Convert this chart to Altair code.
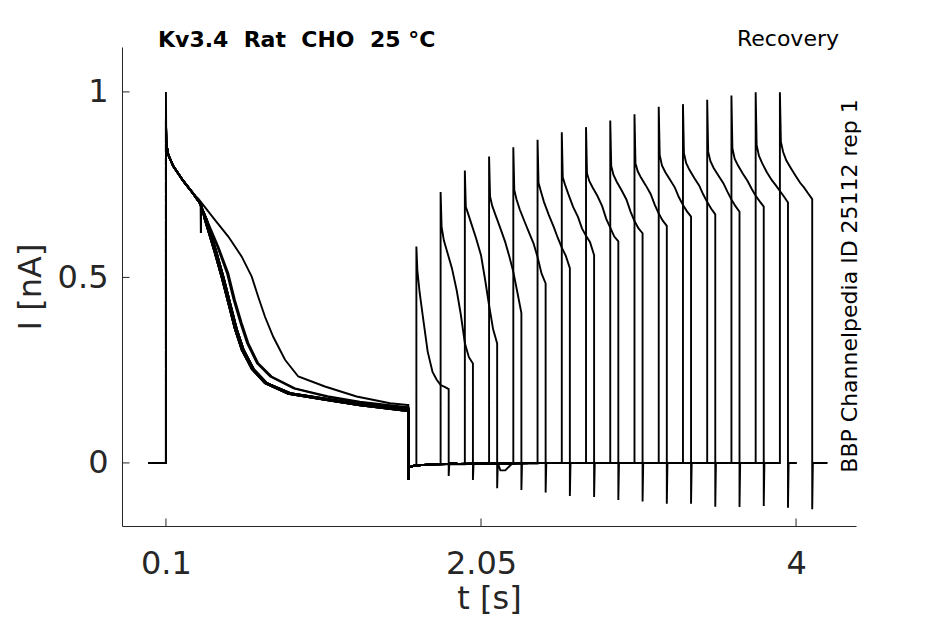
import altair as alt
import pandas as pd

# ---------------- axes ----------------
x_ticks = [0.1, 2.05, 4]
y_ticks = [0, 0.5, 1]
x_domain = [-0.172, 4.371]
y_domain = [-0.170, 1.121]

# ---------------- protocol (s) ----------------
sweep_start = -0.01
pulse1_on = 0.1
pulse1_off = 1.6
pulse2_on = [1.65, 1.80, 1.95, 2.10, 2.25, 2.40, 2.55, 2.70,
             2.85, 3.00, 3.15, 3.30, 3.45, 3.60, 3.75, 3.90]
sweep_stop = [1.905, 2.055, 2.26, 2.355, 2.505, 2.655, 2.805, 2.955,
              3.105, 3.255, 3.405, 3.555, 3.705, 3.855, 4.005, 4.195]

# ---------------- first pulse ----------------
first_peak = [0.93, 0.925, 0.92, 0.93, 0.925, 0.93, 0.92, 0.925,
              0.93, 0.925, 0.92, 0.93, 0.925, 0.92, 0.93, 1.0]
early_t = [0.102, 0.115, 0.145, 0.207, 0.27]
early_i = [0.86, 0.83, 0.80, 0.76, 0.725]

fast_a_t = [0.31, 0.316, 0.3165, 0.317, 0.341, 0.372, 0.403, 0.445, 0.486, 0.527, 0.569, 0.631, 0.713, 0.857, 1.084, 1.3, 1.595]
fast_a_i = [0.70, 0.698, 0.62, 0.697, 0.655, 0.61, 0.565, 0.50, 0.43, 0.36, 0.305, 0.253, 0.215, 0.186, 0.170, 0.155, 0.140]
fast_m_t = [0.31, 0.347, 0.378, 0.409, 0.451, 0.492, 0.533, 0.575, 0.637, 0.72, 0.865, 1.09, 1.3, 1.595]
fast_m_i = [0.70, 0.655, 0.61, 0.565, 0.50, 0.43, 0.36, 0.305, 0.253, 0.216, 0.187, 0.171, 0.157, 0.144]
fast_b_t = [0.31, 0.353, 0.384, 0.415, 0.457, 0.498, 0.539, 0.581, 0.643, 0.725, 0.87, 1.09, 1.3, 1.595]
fast_b_i = [0.70, 0.655, 0.61, 0.565, 0.50, 0.43, 0.36, 0.305, 0.253, 0.215, 0.188, 0.173, 0.158, 0.147]
mid_c_t = [0.31, 0.362, 0.424, 0.486, 0.527, 0.569, 0.61, 0.671, 0.754, 0.899, 1.1, 1.3, 1.595]
mid_c_i = [0.70, 0.646, 0.583, 0.511, 0.439, 0.377, 0.323, 0.269, 0.233, 0.201, 0.180, 0.165, 0.150]
mid_d_t = [0.31, 0.358, 0.418, 0.478, 0.519, 0.561, 0.602, 0.663, 0.745, 0.89, 1.1, 1.3, 1.595]
mid_d_i = [0.70, 0.646, 0.583, 0.511, 0.439, 0.377, 0.323, 0.269, 0.233, 0.201, 0.178, 0.163, 0.148]
slow_e_t = [0.30, 0.34, 0.403, 0.486, 0.569, 0.631, 0.671, 0.713, 0.764, 0.837, 0.919, 1.084, 1.28, 1.487, 1.595]
slow_e_i = [0.712, 0.69, 0.655, 0.61, 0.556, 0.502, 0.448, 0.394, 0.34, 0.278, 0.233, 0.206, 0.179, 0.161, 0.156]

variants = {
    "A": (fast_a_t, fast_a_i), "M": (fast_m_t, fast_m_i), "B": (fast_b_t, fast_b_i),
    "C": (mid_c_t, mid_c_i), "D": (mid_d_t, mid_d_i), "E": (slow_e_t, slow_e_i),
}
sweep_variant = ["E", "C", "D", "A", "M", "B", "M", "B", "A", "M", "B", "A", "M", "B", "A", "M"]

# baseline between the two pulses
gap_t = [1.6, 1.603, 1.64, 1.75, 2.0, 2.5]
gap_i = [-0.046, -0.012, -0.007, -0.004, -0.002, 0.0]

# ---------------- second (recovery) pulse ----------------
peak2 = [0.583, 0.73, 0.788, 0.826, 0.851, 0.871, 0.891, 0.905,
         0.923, 0.94, 0.96, 0.967, 0.979, 0.99, 0.999, 0.999]
decay_rel_t = [0.006, 0.02, 0.04, 0.07, 0.1, 0.125, 0.15, 0.175, 0.2]
decay_i = [
    [0.52, 0.46, 0.395, 0.30, 0.245, 0.225, 0.21, 0.205, 0.199],
    [0.637, 0.60, 0.57, 0.525, 0.464, 0.40, 0.323, 0.285, 0.268],
    [0.69, 0.672, 0.645, 0.605, 0.56, 0.495, 0.425, 0.36, 0.322],
    [0.718, 0.692, 0.668, 0.632, 0.595, 0.557, 0.515, 0.46, 0.404],
    [0.736, 0.71, 0.683, 0.65, 0.618, 0.592, 0.555, 0.51, 0.484],
    [0.755, 0.733, 0.703, 0.668, 0.636, 0.607, 0.58, 0.558, 0.525],
    [0.77, 0.75, 0.725, 0.69, 0.663, 0.632, 0.612, 0.595, 0.56],
    [0.781, 0.76, 0.743, 0.72, 0.692, 0.658, 0.634, 0.61, 0.597],
    [0.80, 0.776, 0.758, 0.735, 0.71, 0.678, 0.652, 0.632, 0.619],
    [0.808, 0.786, 0.769, 0.748, 0.725, 0.696, 0.672, 0.653, 0.639],
    [0.83, 0.802, 0.784, 0.763, 0.742, 0.716, 0.695, 0.678, 0.664],
    [0.835, 0.808, 0.79, 0.768, 0.748, 0.724, 0.703, 0.685, 0.670],
    [0.839, 0.813, 0.795, 0.774, 0.754, 0.731, 0.71, 0.692, 0.677],
    [0.848, 0.82, 0.802, 0.78, 0.76, 0.739, 0.72, 0.705, 0.691],
    [0.857, 0.828, 0.808, 0.783, 0.762, 0.748, 0.733, 0.718, 0.702],
    [0.866, 0.838, 0.815, 0.793, 0.772, 0.755, 0.742, 0.726, 0.711],
]
tail_min = [-0.035, -0.046, -0.068, -0.073, -0.08, -0.089, -0.092, -0.10,
            -0.104, -0.11, -0.11, -0.118, -0.119, -0.116, -0.121, -0.125]
# slow tail recovery seen on sweep 3 (relative to pulse end)
dip_sweep = 2
dip_rel_t = [0.02, 0.05, 0.09]
dip_i = [-0.02, -0.02, -0.003]

# ---------------- build table ----------------
rows = []
for k in range(len(pulse2_on)):
    pts = [(sweep_start, 0.0), (pulse1_on, 0.0), (pulse1_on, first_peak[k])]
    pts += list(zip(early_t, early_i))
    vt, vi = variants[sweep_variant[k]]
    pts += list(zip(vt, vi))
    pts.append((pulse1_off, vi[-1]))
    on = pulse2_on[k]
    last = 0.0
    for gt, gi in zip(gap_t, gap_i):
        if gt < on:
            pts.append((gt, gi))
            last = gi
    pts.append((on, last))
    pts.append((on, peak2[k]))
    for rt, v in zip(decay_rel_t, decay_i[k]):
        pts.append((on + rt, v))
    end2 = on + decay_rel_t[-1]
    pts.append((end2, tail_min[k]))
    pts.append((end2 + 0.004, 0.0))
    if k == dip_sweep:
        for rt, v in zip(dip_rel_t, dip_i):
            pts.append((end2 + rt, v))
    pts.append((sweep_stop[k], 0.0))
    for s, (t, i) in enumerate(pts):
        rows.append({"sweep": k, "seq": s, "t": t, "I": i})

df = pd.DataFrame(rows)

xs = alt.Scale(domain=x_domain, nice=False, zero=False)
ys = alt.Scale(domain=y_domain, nice=False, zero=False)
axis_color = "#262626"
font = "DejaVu Sans"

lines = alt.Chart(df).mark_line(color="black", strokeWidth=1.9).encode(
    x=alt.X("t:Q", scale=xs, axis=alt.Axis(
        values=x_ticks, labelExpr="'' + datum.value", ticks=False, grid=False, labelFlush=False,
        labelFont=font, labelFontSize=32, labelColor=axis_color, labelPadding=22,
        title="t [s]", titleFont=font, titleFontSize=32, titleFontWeight="normal",
        titleColor=axis_color, titlePadding=4,
        domainColor=axis_color, domainWidth=1)),
    y=alt.Y("I:Q", scale=ys, axis=alt.Axis(
        values=y_ticks, labelExpr="'' + datum.value", ticks=False, grid=False, labelFlush=False,
        labelFont=font, labelFontSize=32, labelColor=axis_color, labelPadding=14,
        title="I [nA]", titleFont=font, titleFontSize=32, titleFontWeight="normal",
        titleColor=axis_color, titlePadding=10,
        domainColor=axis_color, domainWidth=1)),
    detail="sweep:N",
    order="seq:Q",
)

xt = alt.Chart(pd.DataFrame({"t": x_ticks})).mark_rule(color=axis_color, strokeWidth=1).encode(
    x=alt.X("t:Q", scale=xs), y=alt.value(479), y2=alt.value(471.5))
yt = alt.Chart(pd.DataFrame({"I": y_ticks})).mark_rule(color=axis_color, strokeWidth=1).encode(
    y=alt.Y("I:Q", scale=ys), x=alt.value(0), x2=alt.value(7.5))

label_df = pd.DataFrame({"a": [0]})
title_left = alt.Chart(label_df).mark_text(
    text="Kv3.4\u00a0\u00a0Rat\u00a0\u00a0CHO\u00a0\u00a025\u00a0°C", font=font, fontSize=22,
    fontWeight="bold", align="left", baseline="alphabetic", color="black"
).encode(x=alt.value(36), y=alt.value(0))
title_right = alt.Chart(label_df).mark_text(
    text="Recovery", font=font, fontSize=22, align="right", baseline="alphabetic", color="black"
).encode(x=alt.value(717), y=alt.value(-1))
side_text = alt.Chart(label_df).mark_text(
    text="BBP Channelpedia ID 25112 rep 1", font=font, fontSize=22, angle=270,
    align="center", baseline="middle", color="black"
).encode(x=alt.value(728), y=alt.value(239))

chart = alt.layer(lines, xt, yt, title_left, title_right, side_text).properties(
    width=734, height=479,
    autosize=alt.AutoSizeParams(type="none"),
    padding={"left": 114, "top": 39, "right": 75, "bottom": 99},
    background="white",
).configure_view(stroke=None)

chart.save("out.html", embed_options={"renderer": "svg", "actions": False})
